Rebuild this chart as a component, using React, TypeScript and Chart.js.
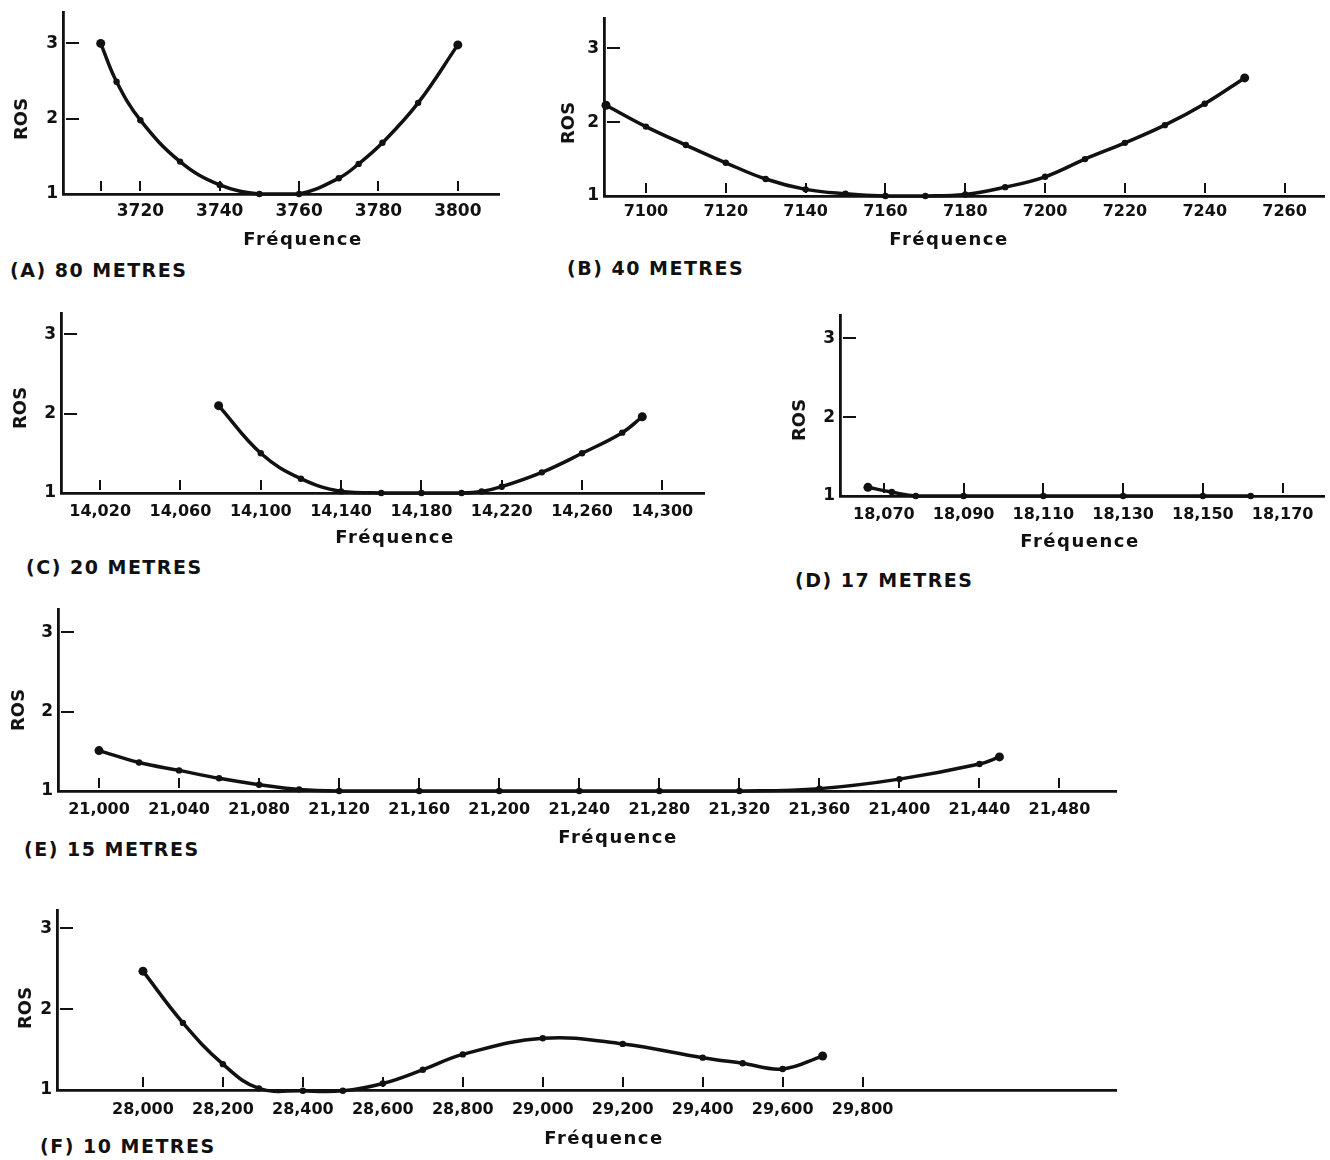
import React, { useEffect, useRef } from 'react';
import { Chart, registerables } from 'chart.js';

Chart.register(...registerables);

// ---------- DATA ----------
// (A) 80 METRES
const freqA = [3710, 3714, 3720, 3730, 3740, 3750, 3760, 3770, 3775, 3781, 3790, 3800];
const rosA = [3.0, 2.49, 1.98, 1.43, 1.12, 1.0, 1.0, 1.21, 1.4, 1.68, 2.21, 2.98];
const ticksA = [3710, 3720, 3740, 3760, 3780, 3800];
const labelsA = ['', '3720', '3740', '3760', '3780', '3800'];

// (B) 40 METRES
const freqB = [7090, 7100, 7110, 7120, 7130, 7140, 7150, 7160, 7170, 7180, 7190, 7200, 7210, 7220, 7230, 7240, 7250];
const rosB = [2.23, 1.94, 1.69, 1.45, 1.23, 1.09, 1.03, 1.0, 1.0, 1.02, 1.12, 1.26, 1.5, 1.72, 1.96, 2.25, 2.6];
const ticksB = [7100, 7120, 7140, 7160, 7180, 7200, 7220, 7240, 7260];
const labelsB = ['7100', '7120', '7140', '7160', '7180', '7200', '7220', '7240', '7260'];

// (C) 20 METRES
const freqC = [14079, 14100, 14120, 14140, 14160, 14180, 14200, 14210, 14220, 14240, 14260, 14280, 14290];
const rosC = [2.1, 1.5, 1.18, 1.02, 1.0, 1.0, 1.0, 1.02, 1.08, 1.26, 1.5, 1.76, 1.96];
const ticksC = [14020, 14060, 14100, 14140, 14180, 14220, 14260, 14300];
const labelsC = ['14,020', '14,060', '14,100', '14,140', '14,180', '14,220', '14,260', '14,300'];

// (D) 17 METRES
const freqD = [18066, 18072, 18078, 18090, 18110, 18130, 18150, 18162];
const rosD = [1.11, 1.05, 1.0, 1.0, 1.0, 1.0, 1.0, 1.0];
const ticksD = [18070, 18090, 18110, 18130, 18150, 18170];
const labelsD = ['18,070', '18,090', '18,110', '18,130', '18,150', '18,170'];

// (E) 15 METRES
const freqE = [21000, 21020, 21040, 21060, 21080, 21100, 21120, 21160, 21200, 21240, 21280, 21320, 21360, 21400, 21440, 21450];
const rosE = [1.51, 1.36, 1.26, 1.16, 1.08, 1.02, 1.0, 1.0, 1.0, 1.0, 1.0, 1.0, 1.03, 1.15, 1.34, 1.43];
const ticksE = [21000, 21040, 21080, 21120, 21160, 21200, 21240, 21280, 21320, 21360, 21400, 21440, 21480];
const labelsE = ['21,000', '21,040', '21,080', '21,120', '21,160', '21,200', '21,240', '21,280', '21,320', '21,360', '21,400', '21,440', '21,480'];

// (F) 10 METRES
const freqF = [28000, 28100, 28200, 28290, 28400, 28500, 28600, 28700, 28800, 29000, 29200, 29400, 29500, 29600, 29700];
const rosF = [2.47, 1.83, 1.32, 1.02, 0.99, 0.99, 1.08, 1.25, 1.44, 1.64, 1.57, 1.4, 1.33, 1.26, 1.42];
const ticksF = [28000, 28200, 28400, 28600, 28800, 29000, 29200, 29400, 29600, 29800];
const labelsF = ['28,000', '28,200', '28,400', '28,600', '28,800', '29,000', '29,200', '29,400', '29,600', '29,800'];

// Y axis (ROS)
const yTicks = [1, 2, 3];
const yLabels = ['1', '2', '3'];
const yTitle = 'ROS';
const xTitle = 'Fréquence';

// ---------- LAYOUT ----------
type PanelDef = {
  name: string;
  freq: number[];
  ros: number[];
  ticks: number[];
  labels: string[];
  axisX: number; top: number; bottom: number; right: number;
  xMin: number; xMax: number; yMax: number;
  tickFont: number; tickPad: number; bigLast: boolean;
  ros_xy: [number, number];
  freq_xy: [number, number];
  name_xy: [number, number];
};

const panels: PanelDef[] = [
  { name: '(A) 80 METRES', freq: freqA, ros: rosA, ticks: ticksA, labels: labelsA,
    axisX: 63, top: 12, bottom: 194, right: 500, xMin: 3700.5, xMax: 3810.5, yMax: 3.41,
    tickFont: 17, tickPad: 7, bigLast: true, ros_xy: [21, 119], freq_xy: [303, 239], name_xy: [10, 270] },
  { name: '(B) 40 METRES', freq: freqB, ros: rosB, ticks: ticksB, labels: labelsB,
    axisX: 604, top: 18, bottom: 196, right: 1325, xMin: 7089.5, xMax: 7270, yMax: 3.405,
    tickFont: 16, tickPad: 6, bigLast: true, ros_xy: [568, 123], freq_xy: [949, 239], name_xy: [567, 268] },
  { name: '(C) 20 METRES', freq: freqC, ros: rosC, ticks: ticksC, labels: labelsC,
    axisX: 61, top: 313, bottom: 493, right: 705, xMin: 14000.5, xMax: 14321, yMax: 3.26,
    tickFont: 16, tickPad: 9, bigLast: true, ros_xy: [20, 408], freq_xy: [395, 537], name_xy: [26, 567] },
  { name: '(D) 17 METRES', freq: freqD, ros: rosD, ticks: ticksD, labels: labelsD,
    axisX: 840, top: 315, bottom: 496, right: 1325, xMin: 18059, xMax: 18180.5, yMax: 3.29,
    tickFont: 16, tickPad: 9, bigLast: false, ros_xy: [799, 420], freq_xy: [1080, 541], name_xy: [795, 580] },
  { name: '(E) 15 METRES', freq: freqE, ros: rosE, ticks: ticksE, labels: labelsE,
    axisX: 58, top: 609, bottom: 791, right: 1117, xMin: 20979.5, xMax: 21508.5, yMax: 3.29,
    tickFont: 16, tickPad: 9, bigLast: true, ros_xy: [18, 710], freq_xy: [618, 837], name_xy: [24, 849] },
  { name: '(F) 10 METRES', freq: freqF, ros: rosF, ticks: ticksF, labels: labelsF,
    axisX: 57, top: 910, bottom: 1090, right: 1117, xMin: 27785, xMax: 30435, yMax: 3.22,
    tickFont: 16, tickPad: 10, bigLast: true, ros_xy: [25, 1008], freq_xy: [604, 1138], name_xy: [40, 1146] },
];

const INK = '#111111';
const FONT = '"DejaVu Sans", Verdana, sans-serif';
const Y_W = 50;
const X_H = 42;
const PAD_T = 4;
const PAD_R = 4;

const tickMarks = {
  id: 'tickMarks',
  beforeDatasetsDraw(chart: any, _args: any, opts: any) {
    const { ctx, chartArea, scales } = chart;
    ctx.save();
    ctx.strokeStyle = INK;
    ctx.lineWidth = 2;
    ctx.lineCap = 'butt';
    (opts.xTicks || []).forEach((v: number) => {
      const px = Math.round(scales.x.getPixelForValue(v));
      ctx.beginPath();
      ctx.moveTo(px, chartArea.bottom - 13);
      ctx.lineTo(px, chartArea.bottom - 3);
      ctx.stroke();
    });
    (opts.yTicks || []).forEach((v: number) => {
      const py = Math.round(scales.y.getPixelForValue(v));
      ctx.beginPath();
      ctx.moveTo(chartArea.left + 3, py);
      ctx.lineTo(chartArea.left + 16, py);
      ctx.stroke();
    });
    ctx.restore();
  },
};

function Panel({ p }: { p: PanelDef }) {
  const ref = useRef<HTMLCanvasElement>(null);
  const cw = Y_W + (p.right - p.axisX) + PAD_R;
  const ch = PAD_T + (p.bottom - p.top) + X_H;
  useEffect(() => {
    const last = p.freq.length - 1;
    const chart = new Chart(ref.current as HTMLCanvasElement, {
      type: 'line',
      data: {
        datasets: [
          {
            data: p.freq.map((f, i) => ({ x: f, y: p.ros[i] })),
            borderColor: INK,
            borderWidth: 3.5,
            tension: 0.4,
            pointRadius: (c: any) =>
              c.dataIndex === 0 || (c.dataIndex === last && p.bigLast) ? 4.5 : 3.2,
            pointBackgroundColor: INK,
            pointBorderWidth: 0,
            clip: 8,
          } as any,
        ],
      },
      options: {
        animation: false,
        responsive: false,
        maintainAspectRatio: false,
        events: [],
        layout: { padding: { top: PAD_T, right: PAD_R, left: 0, bottom: 0 } },
        plugins: {
          legend: { display: false },
          tooltip: { enabled: false },
          tickMarks: { xTicks: p.ticks, yTicks: yTicks.slice(1) },
        } as any,
        scales: {
          x: {
            type: 'linear',
            min: p.xMin,
            max: p.xMax,
            afterBuildTicks: (s: any) => {
              s.ticks = p.ticks.map((v) => ({ value: v }));
            },
            afterFit: (s: any) => {
              s.height = X_H;
              s.paddingLeft = 0;
              s.paddingRight = 0;
            },
            ticks: {
              autoSkip: false,
              maxRotation: 0,
              padding: p.tickPad,
              color: INK,
              font: { family: FONT, size: p.tickFont, weight: 'bold' },
              callback: (v: any) => {
                const i = p.ticks.indexOf(Number(v));
                return i >= 0 ? p.labels[i] : '';
              },
            },
            grid: { display: false, drawTicks: false },
            border: { display: true, color: INK, width: 2.8 },
          },
          y: {
            type: 'linear',
            min: 1,
            max: p.yMax,
            afterBuildTicks: (s: any) => {
              s.ticks = yTicks.map((v) => ({ value: v }));
            },
            afterFit: (s: any) => {
              s.width = Y_W;
              s.paddingTop = 0;
              s.paddingBottom = 0;
            },
            ticks: {
              padding: 5,
              color: INK,
              font: { family: FONT, size: 17, weight: 'bold' },
              callback: (v: any) => {
                const i = yTicks.indexOf(Number(v));
                return i >= 0 ? yLabels[i] : '';
              },
            },
            grid: { display: false, drawTicks: false },
            border: { display: true, color: INK, width: 2.8 },
          },
        },
      } as any,
      plugins: [tickMarks as any],
    });
    return () => chart.destroy();
  }, []);

  const textBase: React.CSSProperties = {
    position: 'absolute',
    fontFamily: FONT,
    fontWeight: 'bold',
    color: INK,
    whiteSpace: 'nowrap',
    lineHeight: 1,
  };

  return (
    <>
      <canvas
        ref={ref}
        width={cw}
        height={ch}
        style={{ position: 'absolute', left: p.axisX - Y_W, top: p.top - PAD_T, width: cw, height: ch }}
      />
      <div
        style={{
          ...textBase,
          left: p.ros_xy[0],
          top: p.ros_xy[1],
          fontSize: 18,
          transform: 'translate(-50%, -50%) rotate(-90deg)',
        }}
      >
        {yTitle}
      </div>
      <div
        style={{
          ...textBase,
          left: p.freq_xy[0],
          top: p.freq_xy[1],
          fontSize: 18,
          letterSpacing: '1.5px',
          transform: 'translate(-50%, -50%)',
        }}
      >
        {xTitle}
      </div>
      <div
        style={{
          ...textBase,
          left: p.name_xy[0],
          top: p.name_xy[1],
          fontSize: 19,
          letterSpacing: '1.5px',
          transform: 'translate(0, -50%)',
        }}
      >
        {p.name}
      </div>
    </>
  );
}

export default function App() {
  return (
    <div
      style={{
        position: 'absolute',
        left: 0,
        top: 0,
        width: 1330,
        height: 1160,
        background: '#fff',
        overflow: 'hidden',
      }}
    >
      {panels.map((p) => (
        <Panel key={p.name} p={p} />
      ))}
    </div>
  );
}
